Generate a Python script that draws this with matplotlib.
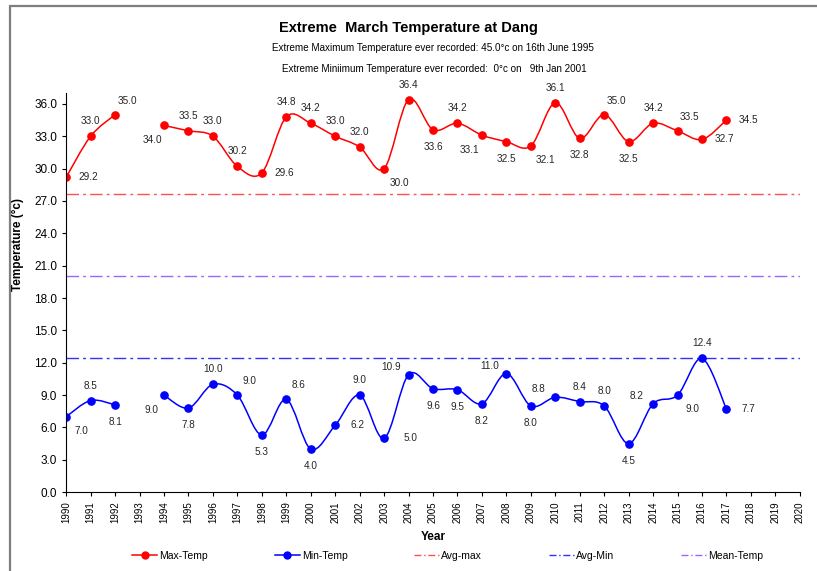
import numpy as np
import matplotlib
matplotlib.use("Agg")
import matplotlib.pyplot as plt
from matplotlib.path import Path
from matplotlib.patches import PathPatch, Rectangle
from matplotlib.lines import Line2D

plt.rcParams['font.family'] = ['Liberation Sans', 'DejaVu Sans']

# Data (1993 has no record)
years = list(range(1990, 2018))
max_temp = [29.2, 33.0, 35.0, np.nan, 34.0, 33.5, 33.0, 30.2, 29.6, 34.8,
            34.2, 33.0, 32.0, 30.0, 36.4, 33.6, 34.2, 33.1, 32.5, 32.1,
            36.1, 32.8, 35.0, 32.5, 34.2, 33.5, 32.7, 34.5]
min_temp = [7.0, 8.5, 8.1, np.nan, 9.0, 7.8, 10.0, 9.0, 5.3, 8.6,
            4.0, 6.2, 9.0, 5.0, 10.9, 9.6, 9.5, 8.2, 11.0, 8.0,
            8.8, 8.4, 8.0, 4.5, 8.2, 9.0, 12.4, 7.7]
avg_max = 27.6
avg_min = 12.4
mean_temp = 20.0

# where each data label sits relative to its point
max_place = ['r', 'a', 'ar', None, 'bl', 'a', 'a', 'a', 'r', 'a',
             'a', 'a', 'a', 'br', 'a', 'b', 'a', 'bl', 'b', 'br',
             'a', 'b', 'ar', 'b', 'a', 'ar', 'r', 'r']
min_place = ['br', 'a', 'b', None, 'bl', 'b', 'a', 'ar', 'b', 'ar',
             'b', 'r', 'a', 'rr', 'al', 'b', 'b', 'b', 'al', 'b',
             'al', 'a', 'a', 'b', 'al', 'br', 'a', 'r']
offsets = {'a': (0, 15), 'b': (0, -17), 'r': (22, 0), 'rr': (26, 0),
           'l': (-22, 0), 'ar': (12, 14), 'al': (-17, 8),
           'br': (15, -14), 'bl': (-12, -15)}


def smooth_runs(xs, ys):
    # Excel-like smoothed line: cubic bezier through each run of valid points
    verts, codes = [], []
    run = []
    for x, y in list(zip(xs, ys)) + [(None, np.nan)]:
        if not np.isnan(y):
            run.append((x, y))
            continue
        if len(run) > 1:
            n = len(run)
            verts.append(run[0])
            codes.append(Path.MOVETO)
            for i in range(n - 1):
                p0 = run[i - 1] if i > 0 else run[i]
                p3 = run[i + 2] if i + 2 < n else run[i + 1]
                c1 = (run[i][0] + (run[i + 1][0] - p0[0]) / 6,
                      run[i][1] + (run[i + 1][1] - p0[1]) / 6)
                c2 = (run[i + 1][0] - (p3[0] - run[i][0]) / 6,
                      run[i + 1][1] - (p3[1] - run[i][1]) / 6)
                verts += [c1, c2, run[i + 1]]
                codes += [Path.CURVE4] * 3
        run = []
    return Path(verts, codes)


fig = plt.figure(figsize=(8.17, 5.71), dpi=100)
ax = fig.add_axes([0.081, 0.138, 0.898, 0.699])

# outer chart frame
fig.patches.append(Rectangle((9.5 / 817, -0.1), 1.2, 1.1 - 6.5 / 571,
                             transform=fig.transFigure, fill=False,
                             edgecolor='#7f7f7f', linewidth=1.6))

dashdot = (0, (9, 3, 2, 3))
ax.axhline(avg_max, color='#ff5050', linewidth=1, linestyle=dashdot)
ax.axhline(avg_min, color='#3030ff', linewidth=1, linestyle=dashdot)
ax.axhline(mean_temp, color='#9966ff', linewidth=1, linestyle=dashdot)

for vals, col, places in [(max_temp, '#ff0000', max_place),
                          (min_temp, '#0000ff', min_place)]:
    ax.add_patch(PathPatch(smooth_runs(years, vals), facecolor='none',
                           edgecolor=col, linewidth=1.1))
    ax.plot(years, vals, linestyle='none', marker='o', markersize=5.2,
            color=col)
    for x, y, p in zip(years, vals, places):
        if p is None or np.isnan(y):
            continue
        ax.annotate(f"{y:.1f}", (x, y), xytext=offsets[p],
                    textcoords='offset pixels', ha='center', va='center',
                    fontsize=7.2, color='#262626')

ax.set_xlim(1990, 2020)
ax.set_ylim(0, 37)
ax.set_xticks(range(1990, 2021))
ax.set_xticklabels([str(y) for y in range(1990, 2021)], rotation=90,
                   fontsize=7)
ax.set_yticks(np.arange(0, 37, 3))
ax.set_yticklabels([f"{v:.1f}" for v in np.arange(0, 37, 3)], fontsize=8.5)
ax.tick_params(direction='out', length=3, width=0.8)
for s in ['top', 'right']:
    ax.spines[s].set_visible(False)
ax.set_xlabel('Year', fontsize=8.5, fontweight='bold', labelpad=6)
ax.set_ylabel('Temperature (°c)', fontsize=8.5, fontweight='bold')
ax.yaxis.set_label_coords(-0.058, 0.62)

fig.text(0.5, 1 - 28 / 571, 'Extreme  March Temperature at Dang',
         ha='center', va='center', fontsize=10.5, fontweight='bold')
fig.text(0.53, 1 - 48 / 571,
         'Extreme Maximum Temperature ever recorded: 45.0°c on 16th June 1995',
         ha='center', va='center', fontsize=7.1)
fig.text(0.532, 1 - 69 / 571,
         'Extreme Miniimum Temperature ever recorded:  0°c on   9th Jan 2001',
         ha='center', va='center', fontsize=7.1)

handles = [
    Line2D([], [], color='#ff0000', marker='o', markersize=5, linewidth=1.1),
    Line2D([], [], color='#0000ff', marker='o', markersize=5, linewidth=1.1),
    Line2D([], [], color='#ff5050', linewidth=1, linestyle=(0, (5, 2, 1, 2))),
    Line2D([], [], color='#3030ff', linewidth=1, linestyle=(0, (5, 2, 1, 2))),
    Line2D([], [], color='#9966ff', linewidth=1, linestyle=(0, (5, 2, 1, 2))),
]
fig.legend(handles, ['Max-Temp', 'Min-Temp', 'Avg-max', 'Avg-Min',
                     'Mean-Temp'],
           loc='center', bbox_to_anchor=(0.548, 1 - 556 / 571), ncol=5,
           frameon=False, fontsize=7.5, columnspacing=6.4, handlelength=2.4,
           handletextpad=0.2)

fig.savefig('out.png', dpi=100)
